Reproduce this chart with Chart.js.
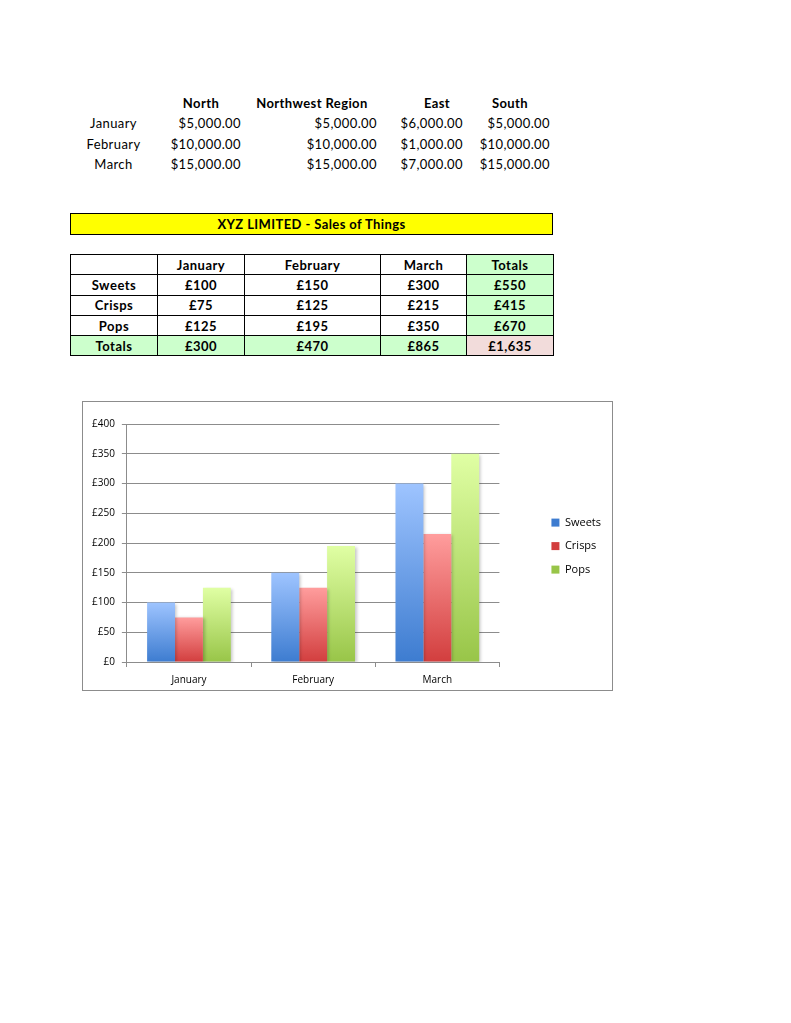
<!DOCTYPE html>
<html>
<head>
<meta charset="utf-8">
<script src="https://cdn.jsdelivr.net/npm/chart.js@4.4.1/dist/chart.umd.min.js"></script>
<style>
  body { margin: 0; background: #fff; font-family: Lato, "Open Sans", sans-serif; color: #000; }
  .sheet { position: relative; width: 791px; height: 1023px; }
  .cell { position: absolute; font-size: 13px; line-height: 20px; letter-spacing: 0.4px; white-space: nowrap; }
  .b { font-weight: bold; }
  table.grid { position: absolute; left: 70px; top: 254px; width: 484px; table-layout: fixed; border-collapse: collapse;
               font-size: 13px; font-weight: bold; letter-spacing: 0.5px; }
  table.grid td { border: 1.5px solid #000; height: 19.3px; padding: 0; text-align: center; line-height: 18px; }
  .g { background: #ccffcc; }
  .p { background: #f2dcdb; }
  .title { position: absolute; left: 70px; top: 213px; width: 481px; height: 20px; background: #ffff00; border: 1.5px solid #000;
           text-align: center; font-size: 13px; font-weight: bold; line-height: 20px; letter-spacing: 0.4px; }
  .chartbox { position: absolute; left: 82px; top: 401px; width: 529px; height: 288px; border: 1px solid #8c8c8c; overflow: hidden; }
  .chartbox canvas { position: absolute; left: 0; top: 0; }
</style>
</head>
<body>
<div class="sheet" id="sheet">
  <div class="title">XYZ LIMITED - Sales of Things</div>
  <table class="grid" id="grid"></table>
  <div class="chartbox"><canvas id="chart" width="529" height="291"></canvas></div>
</div>
<script>
// top block: regional figures
const regions = ["North", "Northwest Region", "East", "South"];
const regionMonths = ["January", "February", "March"];
const north = [5000, 10000, 15000];
const northwest = [5000, 10000, 15000];
const east = [6000, 1000, 7000];
const south = [5000, 10000, 15000];

// sales table + chart
const months = ["January", "February", "March"];
const sweets = [100, 150, 300];
const crisps = [75, 125, 215];
const pops = [125, 195, 350];
const yTicks = [0, 50, 100, 150, 200, 250, 300, 350, 400];

const sheet = document.getElementById("sheet");

function addCell(text, left, top, width, align, bold) {
  const d = document.createElement("div");
  d.className = "cell" + (bold ? " b" : "");
  d.textContent = text;
  d.style.left = left + "px";
  d.style.top = top + "px";
  d.style.width = width + "px";
  d.style.textAlign = align;
  sheet.appendChild(d);
}

function dollars(v) {
  return "$" + v.toLocaleString("en-US", { minimumFractionDigits: 2 });
}
function pounds(v) {
  return "£" + v.toLocaleString("en-GB");
}

// columns of the sheet (left, width)
const cols = [[70, 87], [157, 87], [244, 136], [380, 86], [466, 87]];
const headCenters = [201, 312, 437, 510];
const rowTops = [113, 134, 154];

regions.forEach((r, i) => addCell(r, headCenters[i] - 70, 93, 140, "center", true));
const regionSeries = [north, northwest, east, south];
regionMonths.forEach((m, r) => {
  addCell(m, cols[0][0], rowTops[r], cols[0][1], "center", false);
  regionSeries.forEach((s, c) => {
    addCell(dollars(s[r]), cols[c + 1][0], rowTops[r], cols[c + 1][1] - 3, "right", false);
  });
});

// sales table
const grid = document.getElementById("grid");
const colgroup = document.createElement("colgroup");
cols.forEach(c => {
  const col = document.createElement("col");
  col.style.width = c[1] + "px";
  colgroup.appendChild(col);
});
grid.appendChild(colgroup);

function row(cells, classes) {
  const tr = document.createElement("tr");
  cells.forEach((t, i) => {
    const td = document.createElement("td");
    td.textContent = t;
    if (classes[i]) td.className = classes[i];
    tr.appendChild(td);
  });
  grid.appendChild(tr);
}
const sum = a => a.reduce((x, y) => x + y, 0);
row([""].concat(months, ["Totals"]), ["", "", "", "", "g"]);
[["Sweets", sweets], ["Crisps", crisps], ["Pops", pops]].forEach(([name, vals]) => {
  row([name].concat(vals.map(pounds), [pounds(sum(vals))]), ["", "", "", "", "g"]);
});
const monthTotals = months.map((m, i) => sweets[i] + crisps[i] + pops[i]);
row(["Totals"].concat(monthTotals.map(pounds), [pounds(sum(monthTotals))]), ["g", "g", "g", "g", "p"]);

// chart
const palette = {
  Sweets: ["#9ec4ff", "#3d7cd0"],
  Crisps: ["#ff9d9d", "#d23e3e"],
  Pops: ["#e0ffa4", "#98c548"]
};

function barGradient(ctx, name) {
  const chart = ctx.chart;
  if (!chart.chartArea || ctx.type !== "data") return palette[name][1];
  const y = chart.scales.y;
  const top = y.getPixelForValue(ctx.raw);
  const base = y.getPixelForValue(0);
  const g = chart.ctx.createLinearGradient(0, top, 0, base);
  g.addColorStop(0, palette[name][0]);
  g.addColorStop(1, palette[name][1]);
  return g;
}

// soft drop shadow behind the bars
const shadowPlugin = {
  id: "barShadow",
  beforeDatasetsDraw(chart) {
    const c = chart.ctx;
    c.save();
    c.shadowColor = "rgba(0,0,0,0.22)";
    c.shadowBlur = 3;
    c.shadowOffsetX = 2;
    c.shadowOffsetY = 1;
  },
  afterDatasetsDraw(chart) {
    chart.ctx.restore();
  }
};

function dataset(name, values) {
  return {
    label: name,
    data: values,
    backgroundColor: ctx => barGradient(ctx, name),
    borderWidth: 0,
    categoryPercentage: 0.674,
    barPercentage: 1.0
  };
}

const fontFamily = "'Open Sans', Lato, sans-serif";

new Chart(document.getElementById("chart"), {
  type: "bar",
  data: {
    labels: months,
    datasets: [dataset("Sweets", sweets), dataset("Crisps", crisps), dataset("Pops", pops)]
  },
  options: {
    responsive: false,
    animation: false,
    layout: { padding: { left: 2, top: 22, right: 1, bottom: 0 } },
    plugins: {
      tooltip: { enabled: false },
      legend: {
        position: "right",
        align: "center",
        fullSize: false,
        // tiny blank title nudges the items down a little
        title: { display: true, text: " ", font: { size: 1 }, padding: { top: 2.5, bottom: 2.5 } },
        labels: {
          boxWidth: 8,
          boxHeight: 8,
          padding: 12.5,
          color: "#000",
          font: { family: fontFamily, size: 11 },
          generateLabels: chart => chart.data.datasets.map((ds, i) => ({
            text: ds.label,
            fillStyle: palette[ds.label][1],
            strokeStyle: "rgba(0,0,0,0)",
            fontColor: "#000",
            lineWidth: 0,
            datasetIndex: i
          }))
        }
      }
    },
    scales: {
      x: {
        grid: { drawOnChartArea: false, color: "#8c8c8c", tickLength: 5, offset: true },
        border: { color: "#8c8c8c" },
        ticks: { color: "#000", font: { family: fontFamily, size: 10 }, padding: 7 }
      },
      y: {
        min: 0,
        max: 400,
        afterBuildTicks: axis => { axis.ticks = yTicks.map(v => ({ value: v })); },
        grid: { color: "#8c8c8c", tickLength: 5 },
        border: { color: "#8c8c8c" },
        ticks: {
          color: "#000",
          font: { family: fontFamily, size: 10 },
          padding: 7,
          callback: v => "£" + v
        }
      },
      // empty spacer between plot and legend
      gap: {
        type: "linear",
        position: "right",
        grid: { display: false },
        border: { display: false },
        ticks: { display: false },
        afterFit: axis => { axis.width = 39.5; }
      }
    }
  },
  plugins: [shadowPlugin]
});
</script>
</body>
</html>
